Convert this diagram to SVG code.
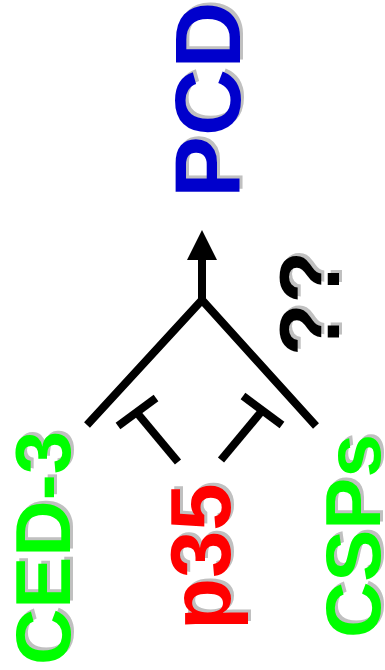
<svg xmlns="http://www.w3.org/2000/svg" width="385" height="670" viewBox="0 0 385 670">
  <defs>
    <style>
      .lbl { font-family: "Liberation Sans", Arial, sans-serif; font-weight: bold; }
      .sh { fill: #c0c0c0; }
      .conn { fill: none; stroke: #000; stroke-width: 8; stroke-linecap: butt; stroke-linejoin: miter; }
    </style>
    <marker id="arrow" markerUnits="userSpaceOnUse" markerWidth="30" markerHeight="30" viewBox="0 0 30 30" refX="0" refY="15" orient="auto">
      <path d="M0,0 L30,15 L0,30 z" fill="#000"/>
    </marker>
  </defs>
  <rect width="385" height="670" fill="#fff"/>

  <g id="connectors">
    <polyline class="conn" points="87,425 202,300 316,426"/>
    <line class="conn" x1="202" y1="300" x2="202" y2="260" marker-end="url(#arrow)"/>
    <line class="conn" x1="178" y1="462" x2="138" y2="414"/>
    <line class="conn" x1="118" y1="426" x2="156" y2="398"/>
    <line class="conn" x1="221" y1="460" x2="261" y2="412"/>
    <line class="conn" x1="243" y1="396" x2="282" y2="425"/>
  </g>

  <g id="node-pcd" class="lbl" font-size="93" transform="translate(240,198) rotate(-90)">
    <text class="sh" x="3" y="3">PCD</text>
    <text fill="#0000cc">PCD</text>
  </g>

  <g id="node-unknown" class="lbl" font-size="86" transform="translate(339,356) rotate(-90)">
    <text class="sh" x="3" y="3">??</text>
    <text fill="#000">??</text>
  </g>

  <g id="node-ced3" class="lbl" font-size="78" transform="translate(70,665) rotate(-90)">
    <text class="sh" x="3" y="3">CED-3</text>
    <text fill="#00ff00">CED-3</text>
  </g>

  <g id="node-p35" class="lbl" font-size="85" transform="translate(230,630) rotate(-90)">
    <text class="sh" x="3" y="3">p35</text>
    <text fill="#ff0000">p35</text>
  </g>

  <g id="node-csps" class="lbl" font-size="78" transform="translate(380,638) rotate(-90)">
    <text class="sh" x="3" y="3">CSPs</text>
    <text fill="#00ff00">CSPs</text>
  </g>
</svg>
